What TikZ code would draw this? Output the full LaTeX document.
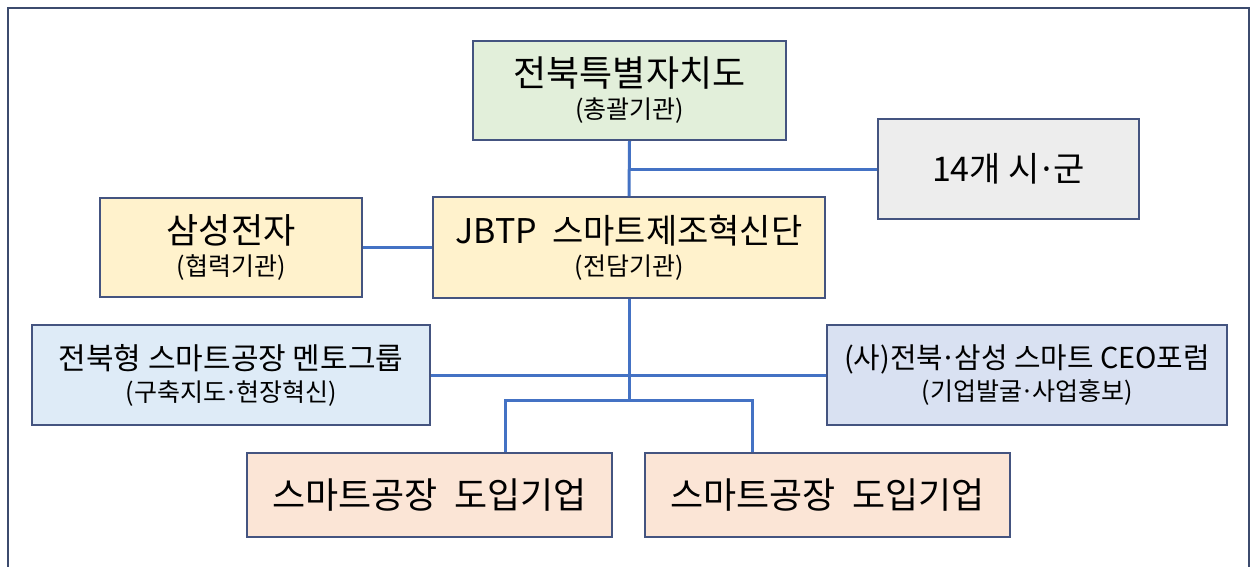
\documentclass[tikz,border=0pt]{standalone}
\usepackage{fontspec}
\setmainfont{Noto Sans CJK KR}
\definecolor{fgreen}{RGB}{226,239,218}
\definecolor{fgray}{RGB}{237,237,237}
\definecolor{fyellow}{RGB}{255,242,204}
\definecolor{fblue}{RGB}{222,235,247}
\definecolor{fceo}{RGB}{217,225,242}
\definecolor{fpeach}{RGB}{251,229,214}
\definecolor{boxline}{RGB}{68,84,128}
\definecolor{conline}{RGB}{68,114,196}
\definecolor{frameline}{RGB}{60,75,110}
\newcommand\mdot{\makebox[0.4em][c]{\char"00B7}}
\newcommand\twoline[3]{{\fontsize{#1}{32}\selectfont #2}\\{\fontsize{25}{32}\selectfont #3}}
\begin{document}
\begin{tikzpicture}[x=1pt,y=-1pt,
  orgbox/.style={draw=boxline,line width=2pt,rectangle,inner sep=0pt,align=center,
    font=\fontsize{25}{32}\selectfont,text=black},
  conn/.style={draw=conline,line width=3pt}]
\useasboundingbox (0,0) rectangle (1250,566);
\fill[white] (0,0) rectangle (1250,566);
\draw[frameline,line width=2pt] (8,8) rectangle (1249,580);
\node[orgbox,fill=fgreen,minimum width=313pt,minimum height=99pt] (top) at (629.5,90.5) {\twoline{36}{전북특별자치도}{(총괄기관)}};
\node[orgbox,fill=fgray,minimum width=261pt,minimum height=100pt] (si) at (1008.5,169) {{\fontsize{34}{32}\selectfont 14개 시\mdot 군}};
\node[orgbox,fill=fyellow,minimum width=262pt,minimum height=99pt] (ss) at (231,247.5) {\twoline{35}{삼성전자}{(협력기관)}};
\node[orgbox,fill=fyellow,minimum width=392pt,minimum height=101pt] (jbtp) at (629,247.5) {\twoline{34}{JBTP\ \ 스마트제조혁신단}{(전담기관)}};
\node[orgbox,fill=fblue,minimum width=398pt,minimum height=100pt] (mentor) at (231,375) {\twoline{30}{전북형 스마트공장 멘토그룹}{(구축지도\mdot 현장혁신)}};
\node[orgbox,fill=fceo,minimum width=400pt,minimum height=100pt] (ceo) at (1027,375) {\twoline{28.8}{(사)전북\mdot 삼성 스마트 CEO포럼}{(기업발굴\mdot 사업홍보)}};
\node[orgbox,fill=fpeach,minimum width=365pt,minimum height=84pt] (bl) at (429.5,495) {{\fontsize{36}{32}\selectfont 스마트공장\ \ 도입기업}};
\node[orgbox,fill=fpeach,minimum width=365pt,minimum height=84pt] (br) at (827.5,495) {{\fontsize{36}{32}\selectfont 스마트공장\ \ 도입기업}};
\coordinate (j1) at (629,169);
\coordinate (j2) at (629,400);
\coordinate (b1) at (505,400);
\coordinate (b2) at (752,400);
\draw[conn] (top.south) -- (jbtp.north);
\draw[conn] (j1) -- (si.west);
\draw[conn] (ss.east) -- (jbtp.west);
\draw[conn] (jbtp.south) -- (j2);
\draw[conn] (mentor.east) -- (ceo.west);
\draw[conn] (bl.north -| b1) -- (b1) -- (b2) -- (br.north -| b2);
\end{tikzpicture}
\end{document}
